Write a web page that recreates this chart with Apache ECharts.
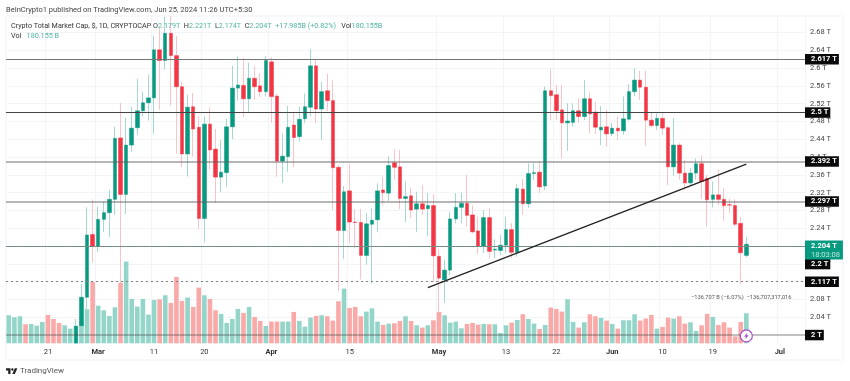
<!DOCTYPE html>
<html>
<head>
<meta charset="utf-8">
<style>
  html, body { margin: 0; padding: 0; background: #fff; }
  #chart { width: 850px; height: 381px; }
</style>
<script src="https://cdn.jsdelivr.net/npm/echarts@6/dist/echarts.min.js"></script>
</head>
<body>
<div id="chart"></div>
<script>
// daily candles from 2024-02-14, values in T. the first 12 sit below the visible range
var opens = [1.865,1.890,1.905,1.915,1.900,1.925,1.935,1.945,1.905,1.890,1.880,1.905,
  1.982,2.021,2.085,2.226,2.200,2.260,2.275,2.305,2.443,2.316,2.427,2.466,2.504,2.522,2.533,2.641,2.617,2.678,
  2.628,2.558,2.407,2.513,2.467,2.262,2.474,2.418,2.355,2.365,2.468,2.555,2.561,2.531,2.577,2.560,2.547,2.614,
  2.537,2.391,2.401,2.472,2.446,2.486,2.512,2.605,2.508,2.549,2.527,2.377,2.235,2.324,2.254,2.253,2.179,2.249,
  2.259,2.326,2.319,2.387,2.378,2.307,2.313,2.283,2.295,2.284,2.291,2.177,2.124,2.146,2.261,2.287,2.296,2.270,
  2.234,2.199,2.264,2.191,2.190,2.202,2.237,2.186,2.328,2.295,2.363,2.366,2.335,2.549,2.540,2.506,2.477,2.478,
  2.504,2.491,2.531,2.501,2.461,2.468,2.453,2.465,2.459,2.485,2.547,2.573,2.557,2.483,2.471,2.487,2.466,2.378,
  2.427,2.364,2.342,2.364,2.385,2.352,2.305,2.315,2.305,2.293,2.291,2.251,2.179];
var closes = [1.890,1.905,1.915,1.900,1.925,1.935,1.945,1.905,1.890,1.880,1.905,1.945,
  2.020,2.085,2.225,2.200,2.260,2.275,2.305,2.442,2.316,2.427,2.465,2.504,2.522,2.533,2.641,2.617,2.678,2.628,
  2.558,2.407,2.512,2.463,2.262,2.474,2.416,2.355,2.366,2.468,2.555,2.562,2.531,2.577,2.558,2.547,2.617,2.536,
  2.391,2.402,2.467,2.444,2.485,2.513,2.605,2.508,2.547,2.527,2.376,2.235,2.322,2.254,2.253,2.179,2.250,2.258,
  2.324,2.320,2.381,2.377,2.307,2.311,2.281,2.295,2.283,2.291,2.178,2.128,2.146,2.261,2.287,2.296,2.269,2.232,
  2.200,2.264,2.188,2.193,2.202,2.237,2.186,2.329,2.295,2.363,2.365,2.333,2.549,2.538,2.504,2.477,2.481,2.504,
  2.491,2.531,2.497,2.467,2.467,2.452,2.465,2.459,2.486,2.547,2.573,2.557,2.483,2.471,2.487,2.465,2.378,2.427,
  2.364,2.342,2.364,2.385,2.345,2.304,2.315,2.305,2.291,2.292,2.249,2.185,2.204];
var lows = [1.850,1.880,1.895,1.895,1.895,1.915,1.925,1.895,1.880,1.870,1.870,1.895,
  1.982,2.012,2.053,2.163,2.187,2.232,2.221,2.270,2.117,2.272,2.412,2.450,2.492,2.482,2.452,2.506,2.597,2.515,
  2.407,2.378,2.356,2.401,2.238,2.208,2.371,2.297,2.322,2.333,2.440,2.527,2.490,2.502,2.528,2.535,2.536,2.477,
  2.356,2.342,2.367,2.378,2.435,2.476,2.492,2.476,2.438,2.504,2.281,2.099,2.171,2.206,2.196,2.125,2.158,2.116,
  2.232,2.292,2.301,2.349,2.283,2.254,2.263,2.232,2.270,2.223,2.120,2.050,2.072,2.135,2.251,2.251,2.244,2.229,
  2.182,2.184,2.173,2.173,2.180,2.184,2.173,2.176,2.270,2.286,2.349,2.319,2.326,2.483,2.483,2.397,2.414,2.468,
  2.477,2.483,2.454,2.452,2.427,2.423,2.447,2.438,2.450,2.482,2.537,2.528,2.425,2.467,2.461,2.450,2.337,2.358,
  2.349,2.326,2.337,2.349,2.306,2.244,2.287,2.292,2.257,2.274,2.244,2.114,2.174];
var highs = [1.900,1.915,1.925,1.925,1.935,1.945,1.955,1.955,1.915,1.900,1.915,1.955,
  2.036,2.115,2.287,2.305,2.288,2.300,2.326,2.468,2.522,2.488,2.513,2.576,2.547,2.585,2.672,2.690,2.715,2.717,
  2.672,2.569,2.540,2.544,2.491,2.491,2.511,2.463,2.438,2.486,2.605,2.626,2.623,2.612,2.605,2.589,2.627,2.624,
  2.542,2.452,2.515,2.502,2.513,2.543,2.642,2.620,2.569,2.587,2.573,2.382,2.335,2.385,2.283,2.283,2.274,2.286,
  2.341,2.356,2.402,2.418,2.416,2.345,2.331,2.322,2.337,2.319,2.317,2.194,2.169,2.277,2.319,2.320,2.360,2.292,
  2.266,2.281,2.286,2.215,2.225,2.266,2.251,2.339,2.351,2.385,2.387,2.390,2.558,2.598,2.562,2.562,2.521,2.521,
  2.533,2.573,2.545,2.525,2.515,2.506,2.477,2.491,2.536,2.564,2.600,2.594,2.594,2.502,2.498,2.502,2.470,2.487,
  2.431,2.393,2.375,2.397,2.404,2.360,2.345,2.371,2.331,2.306,2.305,2.265,2.221];
// in B
var volumes = [168,156,162,114,116,106,128,170,146,122,108,88,
  104,130,204,368,226,198,164,216,362,490,266,220,266,172,260,264,288,242,
  398,254,274,218,334,288,266,198,176,122,146,206,182,218,158,134,104,130,
  130,130,130,188,134,100,154,164,168,162,136,252,328,212,218,162,190,210,
  130,110,118,120,134,162,134,108,94,108,138,188,168,124,130,90,116,122,
  112,116,114,114,62,108,124,140,174,146,118,86,110,214,206,190,264,128,
  94,126,174,162,152,136,116,88,138,138,174,136,148,170,88,98,154,148,
  162,118,126,74,108,176,158,110,126,94,42,128,180.155];

var priceTicks = [2.04,2.08,2.12,2.16,2.2,2.24,2.28,2.32,2.36,2.4,2.44,2.48,2.52,2.56,2.6,2.64,2.68];
var tickDates = ['2024-02-21','2024-03-01','2024-03-11','2024-03-20','2024-04-01','2024-04-15','2024-05-01','2024-05-13','2024-05-22','2024-06-01','2024-06-10','2024-06-19','2024-07-01'];
var tickLabels = ['21','Mar','11','20','Apr','15','May','13','22','Jun','10','19','Jul'];
var levelValues = [2.617,2.5,2.392,2.297,2.2,2.117,2];
var levelLabels = ['2.617 T','2.5 T','2.392 T','2.297 T','2.2 T','2.117 T','2 T'];
var lastPrice = 2.204;
var trendDates = ['2024-04-29','2024-06-25'];
var trendValues = [2.1065,2.384];

var UP = '#089981', DOWN = '#f23645';

// categories run on past the last candle, up to the price scale
var categories = [];
for (var d = 0; d < 143; d++) {
  categories.push(new Date(Date.UTC(2024, 1, 14 + d)).toISOString().slice(0, 10));
}

var levelStyles = [
  { color: '#757575', width: 1 },
  { color: '#444', width: 1.2 },
  { color: 'rgba(90,90,90,.45)', width: 2 },
  { color: 'rgba(90,90,90,.45)', width: 2 },
  { color: '#8a8a8a', width: 1 },
  { color: '#808080', width: 1.2, type: [2, 3] },
  { color: 'rgba(70,70,70,.45)', width: 1.6 }
];
var boxOffsets = { '2.2 T': [0, 18] };

var levelLines = levelValues.map(function (v, i) {
  return {
    yAxis: v,
    lineStyle: Object.assign({ type: 'solid' }, levelStyles[i]),
    label: {
      show: true,
      position: 'end',
      distance: 0,
      formatter: levelLabels[i],
      backgroundColor: '#0a0a0a',
      color: '#fff',
      fontFamily: 'Roboto',
      fontSize: 7.5,
      fontWeight: 'bold',
      padding: [1.5, 2, 1, 6],
      offset: boxOffsets[levelLabels[i]] || [0, 0]
    }
  };
});

levelLines.push({
  yAxis: lastPrice,
  lineStyle: { color: 'rgba(8,153,129,.45)', width: 1, type: [1, 2] },
  label: {
    show: true,
    position: 'end',
    distance: 0,
    formatter: '{a|' + lastPrice + ' T}\n{b|18:03:08}',
    backgroundColor: UP,
    padding: [1, 3, 0, 6],
    offset: [0, 4],
    rich: {
      a: { color: '#fff', fontFamily: 'Roboto', fontSize: 7.5, fontWeight: 'bold', lineHeight: 9 },
      b: { color: '#bfe6de', fontFamily: 'Roboto', fontSize: 7.5, lineHeight: 9 }
    }
  }
});

levelLines.push([
  { coord: [trendDates[0], trendValues[0]], lineStyle: { color: '#222', width: 1.3, type: 'solid' }, label: { show: false } },
  { coord: [trendDates[1], trendValues[1]] }
]);

var wicks = opens.map(function (o, i) {
  return { value: [o, closes[i], lows[i], highs[i]],
    itemStyle: closes[i] >= o
      ? { color: '#a3d9cf', color0: '#a3d9cf', borderColor: '#a3d9cf', borderColor0: '#a3d9cf' }
      : { color: '#fac3c7', color0: '#fac3c7', borderColor: '#fac3c7', borderColor0: '#fac3c7' } };
});
var bodies = opens.map(function (o, i) {
  return [o, closes[i], Math.min(o, closes[i]), Math.max(o, closes[i])];
});
var volumeBars = volumes.map(function (v, i) {
  return { value: v, itemStyle: { color: closes[i] >= opens[i] ? '#93d5c9' : '#f9a9a7' } };
});

var chart = echarts.init(document.getElementById('chart'), null, { renderer: 'canvas' });

var textFont = { fontFamily: 'Roboto', fontSize: 7.2, fontWeight: 'normal' };

chart.setOption({
  animation: false,
  backgroundColor: '#fff',
  title: [
    { text: 'BeInCrypto1 published on TradingView.com, Jun 25, 2024 11:26 UTC+5:30', left: 6, top: 6.5, padding: 0,
      textStyle: { color: '#444', fontFamily: 'Roboto', fontSize: 7.5, fontWeight: 'normal' } },
    { text: '{d|Crypto Total Market Cap, $, 1D, CRYPTOCAP O}{u|2.179T}{d|  H}{u|2.221T}{d|  L}{u|2.174T}{d|  C}{u|2.204T}{u|  +17.985B (+0.82%)}{d|   Vol}{u|180.155B}',
      left: 11, top: 22.5, padding: 0,
      textStyle: { rich: { d: Object.assign({ color: '#333' }, textFont), u: Object.assign({ color: '#4fb5a3' }, textFont) } } },
    { text: '{d|Vol}{u|   180.155 B}', left: 11, top: 32.5, padding: 0,
      textStyle: { rich: { d: Object.assign({ color: '#333' }, textFont), u: Object.assign({ color: '#4fb5a3' }, textFont) } } },
    { text: '\u2212136.707 B (\u22126.07%)  \u2212136,707,317,016', left: 691, top: 294.5, padding: 0,
      textStyle: { color: '#555', fontFamily: 'Roboto', fontSize: 5.7, fontWeight: 'normal' } },
    { text: 'TradingView', left: 20, top: 367, padding: 0,
      textStyle: { color: '#555', fontFamily: 'Roboto', fontSize: 8, fontWeight: 'normal' } }
  ],
  graphic: [
    { type: 'rect', silent: true, z: -1, shape: { x: 6, y: 16, width: 837, height: 344 },
      style: { fill: 'none', stroke: '#eff1f6', lineWidth: 1 } },
    // TradingView logo
    { type: 'polygon', silent: true, shape: { points: [[6, 368.3], [10.5, 368.3], [10.5, 374], [8.2, 374], [8.2, 370.5], [6, 370.5]] }, style: { fill: '#222' } },
    { type: 'polygon', silent: true, shape: { points: [[14.8, 368.3], [17.3, 368.3], [14.8, 374], [12.3, 374]] }, style: { fill: '#222' } },
    { type: 'circle', silent: true, shape: { cx: 12.4, cy: 369.5, r: 1.2 }, style: { fill: '#222' } }
  ],
  grid: { left: 6, right: 45, top: 16, bottom: 37.7 },
  xAxis: {
    type: 'category',
    data: categories,
    axisLine: { show: false },
    axisTick: { show: false, alignWithLabel: true, interval: function (i, v) { return tickDates.indexOf(v) >= 0; } },
    splitLine: { show: true, lineStyle: { color: '#f3f4f8' }, interval: function (i, v) { return tickDates.indexOf(v) >= 0; } },
    axisLabel: {
      interval: function (i, v) { return tickDates.indexOf(v) >= 0; },
      margin: 5,
      color: '#333',
      fontFamily: 'Roboto',
      fontSize: 7.5,
      formatter: function (v) {
        var label = tickLabels[tickDates.indexOf(v)];
        return isNaN(label) ? '{m|' + label + '}' : label;
      },
      rich: { m: { color: '#333', fontFamily: 'Roboto', fontSize: 7.5, fontWeight: 'bold' } }
    }
  },
  yAxis: [
    {
      type: 'value',
      position: 'right',
      min: 1.9815,
      max: 2.717,
      axisLine: { show: false },
      axisTick: { show: false, customValues: priceTicks },
      splitLine: { show: true, lineStyle: { color: '#f3f4f8' } },
      axisLabel: {
        customValues: priceTicks,
        margin: 5,
        color: '#444',
        fontFamily: 'Roboto',
        fontSize: 7.5,
        formatter: function (v) { return +v.toFixed(2) + ' T'; }
      }
    },
    { type: 'value', min: 0, max: 1962, show: false, splitLine: { show: false } }
  ],
  series: [
    {
      type: 'bar',
      name: 'Vol',
      yAxisIndex: 1,
      data: volumeBars,
      barWidth: 4.6,
      z: 1
    },
    {
      type: 'candlestick',
      name: 'wicks',
      data: wicks,
      barWidth: 1,
      z: 2
    },
    {
      type: 'candlestick',
      name: 'price',
      data: bodies,
      barWidth: 4,
      itemStyle: { color: UP, color0: DOWN, borderColor: UP, borderColor0: DOWN, borderWidth: 0.5 },
      z: 3,
      markLine: {
        silent: true,
        symbol: 'none',
        animation: false,
        z: 5,
        data: levelLines
      },
      markPoint: {
        silent: true,
        animation: false,
        z: 6,
        data: [
          { coord: [categories[132], 1.998], symbol: 'circle', symbolSize: 12, label: { show: false },
            itemStyle: { color: '#fff', borderColor: '#a94fc8', borderWidth: 1.2 } },
          { coord: [categories[132], 1.998], symbol: 'path://M6 0L1 6h3L3 10l5-6H5z', symbolSize: [4.5, 7], label: { show: false },
            itemStyle: { color: '#a94fc8' } }
        ]
      }
    }
  ]
});

window.addEventListener('resize', function () {
  chart.resize();
});
</script>
</body>
</html>
